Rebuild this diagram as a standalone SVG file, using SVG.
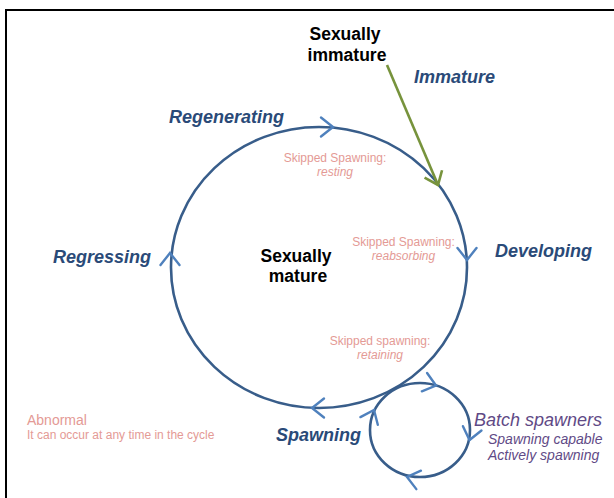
<svg xmlns="http://www.w3.org/2000/svg" width="614" height="498" viewBox="0 0 614 498">
<style>
.ring{fill:none;stroke:#385d8a;stroke-width:2.6}
.chev{fill:none;stroke:#4f81bd;stroke-width:2.4;stroke-linecap:round;stroke-linejoin:miter}
.t{font-family:"Liberation Sans",Arial,sans-serif}
.black{font-weight:bold;fill:#000;font-size:17.5px}
.stage{font-weight:bold;font-style:italic;fill:#2a4a78;font-size:18px}
.pink{fill:#e49a95;font-size:12px}
.purple{fill:#5f4a86;font-style:italic}
</style>
<defs>
<path id="cv" d="M-12,-9.5 L0,0 L-12,9.5"/>
</defs>
<rect x="6" y="10" width="640" height="520" fill="#fff" stroke="#000" stroke-width="2"/>
<g id="connectors">
<ellipse class="ring" cx="319" cy="267.5" rx="148" ry="140.5"/>
<ellipse class="ring" cx="420" cy="430" rx="50" ry="47"/>
<use href="#cv" class="chev" transform="translate(333,127)"/>
<use href="#cv" class="chev" transform="translate(467,260) rotate(90)"/>
<use href="#cv" class="chev" transform="translate(312,408) rotate(180)"/>
<use href="#cv" class="chev" transform="translate(170,253) rotate(-90)"/>
<use href="#cv" class="chev" transform="translate(436,385.5) rotate(16)"/>
<use href="#cv" class="chev" transform="translate(469.5,440) rotate(103)"/>
<use href="#cv" class="chev" transform="translate(407,477) rotate(194)"/>
<use href="#cv" class="chev" transform="translate(374,410) rotate(-66)"/>
<line x1="387" y1="65" x2="438" y2="185" stroke="#77933c" stroke-width="2.6"/>
<use href="#cv" fill="none" stroke="#77933c" stroke-width="2.6" transform="translate(438,185) rotate(67)"/>
</g>
<g id="immature-node">
<text class="t black" x="345" y="40" text-anchor="middle">Sexually</text>
<text class="t black" x="347" y="61" text-anchor="middle">immature</text>
</g>
<g id="mature-node">
<text class="t black" x="296" y="262" text-anchor="middle">Sexually</text>
<text class="t black" x="298" y="282" text-anchor="middle">mature</text>
</g>
<g id="stage-immature"><text class="t stage" x="414" y="83">Immature</text></g>
<g id="stage-regenerating"><text class="t stage" x="169" y="123">Regenerating</text></g>
<g id="stage-regressing"><text class="t stage" x="53" y="263">Regressing</text></g>
<g id="stage-developing"><text class="t stage" x="495" y="257">Developing</text></g>
<g id="stage-spawning"><text class="t stage" x="276" y="441">Spawning</text></g>
<g id="skip-resting">
<text class="t pink" x="335" y="162" text-anchor="middle">Skipped Spawning:</text>
<text class="t pink" x="335" y="176" text-anchor="middle" font-style="italic">resting</text>
</g>
<g id="skip-reabsorbing">
<text class="t pink" x="403.5" y="246" text-anchor="middle">Skipped Spawning:</text>
<text class="t pink" x="403.5" y="260" text-anchor="middle" font-style="italic">reabsorbing</text>
</g>
<g id="skip-retaining">
<text class="t pink" x="380" y="345" text-anchor="middle">Skipped spawning:</text>
<text class="t pink" x="380" y="359" text-anchor="middle" font-style="italic">retaining</text>
</g>
<g id="abnormal">
<text class="t" x="27" y="425" fill="#e49a95" font-size="14px">Abnormal</text>
<text class="t" x="27" y="439" fill="#e49a95" font-size="12px">It can occur at any time in the cycle</text>
</g>
<g id="batch">
<text class="t purple" x="474" y="426" font-size="18px">Batch spawners</text>
<text class="t purple" x="488" y="444" font-size="14px">Spawning capable</text>
<text class="t purple" x="488" y="460" font-size="14px">Actively spawning</text>
</g>
</svg>
